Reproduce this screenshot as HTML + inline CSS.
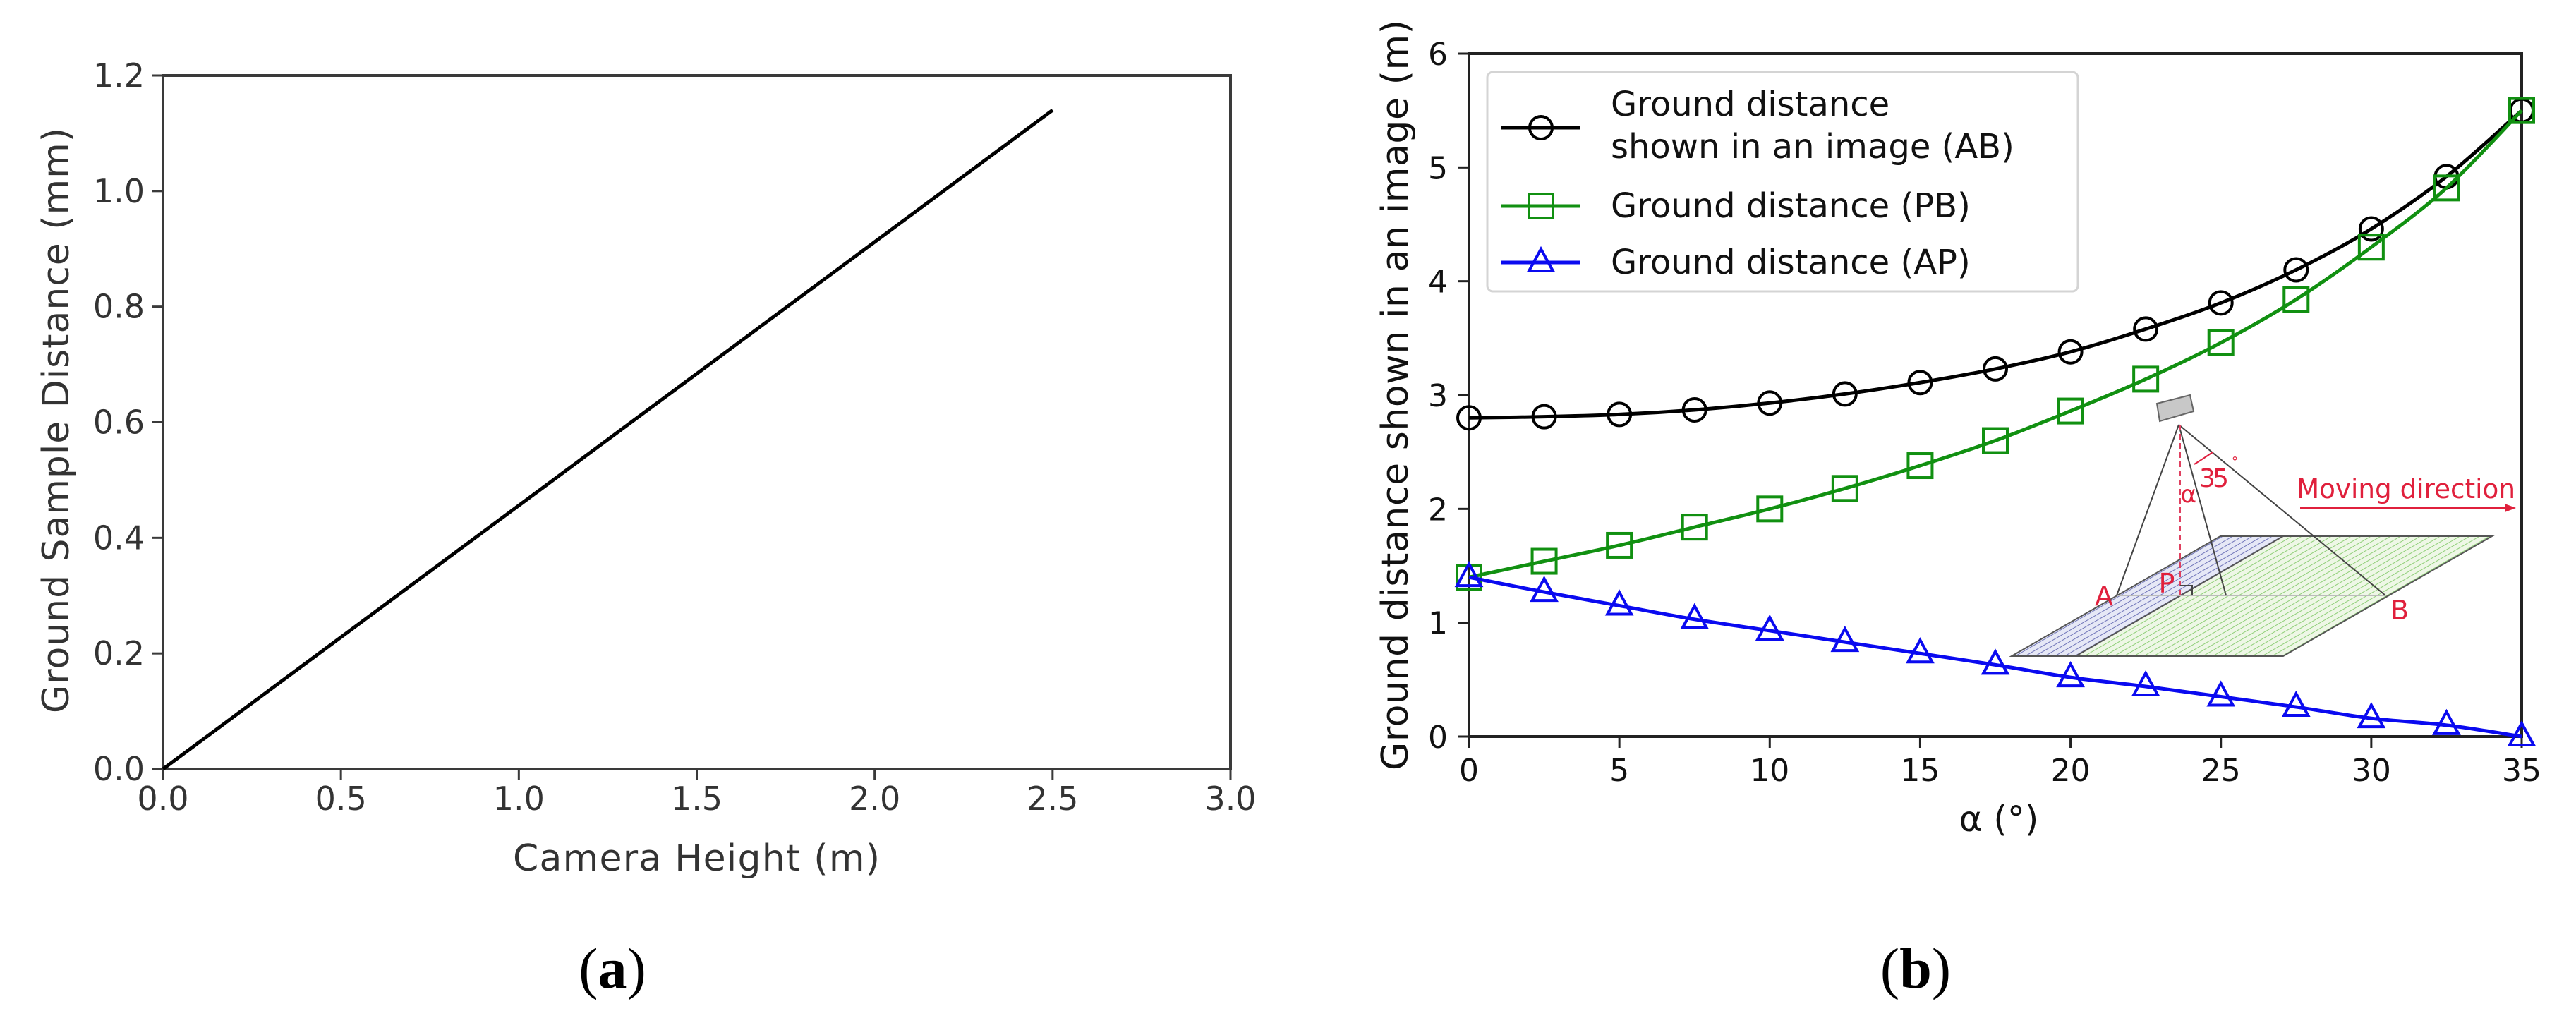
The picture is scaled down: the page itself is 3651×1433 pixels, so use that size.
<!DOCTYPE html>
<html><head><meta charset="utf-8"><style>
html,body{margin:0;padding:0;background:#fff}
svg{display:block}
text{font-family:"DejaVu Sans","Liberation Sans",sans-serif}
</style></head><body>
<svg id="fig" width="3651" height="1433" viewBox="0 0 3651 1433" xmlns="http://www.w3.org/2000/svg">
<g id="chartA"></g>
<g id="chartB"></g>
<text x="868" y="1400" text-anchor="middle" font-size="82" style="font-family:'Liberation Serif',serif">(<tspan font-weight="bold">a</tspan>)</text>
<text x="2715" y="1400" text-anchor="middle" font-size="82" style="font-family:'Liberation Serif',serif">(<tspan font-weight="bold">b</tspan>)</text>
</svg>
<script>
// ---- chart (a) data ----
const aHeights = [0, 2.5];
const aGSD = [0, 1.14];
const aXTicks = [0, 0.5, 1.0, 1.5, 2.0, 2.5, 3.0];
const aYTicks = [0, 0.2, 0.4, 0.6, 0.8, 1.0, 1.2];
// ---- chart (b) data ----
const bAlpha = [0,2.5,5,7.5,10,12.5,15,17.5,20,22.5,25,27.5,30,32.5,35];
const bAB = [2.80,2.81,2.83,2.87,2.93,3.01,3.11,3.23,3.38,3.58,3.81,4.10,4.46,4.92,5.50];
const bPB = [1.40,1.54,1.68,1.84,2.00,2.18,2.38,2.60,2.86,3.14,3.46,3.84,4.30,4.82,5.50];
const bAP = [1.40,1.27,1.15,1.03,0.93,0.83,0.73,0.63,0.52,0.44,0.35,0.26,0.16,0.10,0.00];
const bXTicks = [0,5,10,15,20,25,30,35];
const bYTicks = [0,1,2,3,4,5,6];

const NS="http://www.w3.org/2000/svg";
function mk(parent,tag,attrs,txt){const e=document.createElementNS(NS,tag);for(const k in attrs)e.setAttribute(k,attrs[k]);if(txt!==undefined)e.textContent=txt;parent.appendChild(e);return e;}
function smoothPath(pts){let d="M"+pts[0][0]+","+pts[0][1];for(let i=0;i<pts.length-1;i++){const p0=pts[Math.max(0,i-1)],p1=pts[i],p2=pts[i+1],p3=pts[Math.min(pts.length-1,i+2)];const c1=[p1[0]+(p2[0]-p0[0])/6,p1[1]+(p2[1]-p0[1])/6],c2=[p2[0]-(p3[0]-p1[0])/6,p2[1]-(p3[1]-p1[1])/6];d+=" C"+c1+" "+c2+" "+p2;}return d;}

// ===== Chart A =====
(function(){
const g=document.getElementById('chartA');
const L=231,R=1744,T=107,B=1090;
const xs=v=>L+(v-0)/3*(R-L), ys=v=>B-(v/1.2)*(B-T);
let e=mk(g,'rect',{x:L,y:T,width:R-L,height:B-T,fill:'none',stroke:'#3a3a3a','stroke-width':4});


aXTicks.forEach(t=>{
 e=mk(g,'line',{x1:xs(t),x2:xs(t),y1:B,y2:B+16,stroke:'#3a3a3a','stroke-width':3});
 
 
 e=mk(g,'text',{x:xs(t),y:B+58,'text-anchor':'middle','font-size':46,fill:'#333'},t.toFixed(1));
 
 
});
aYTicks.forEach(t=>{
 e=mk(g,'line',{x1:L-16,x2:L,y1:ys(t),y2:ys(t),stroke:'#3a3a3a','stroke-width':3});
 
 
 e=mk(g,'text',{x:L-26,y:ys(t)+16,'text-anchor':'end','font-size':46,fill:'#333'},t.toFixed(1));
 
 
});
e=mk(g,'polyline',{points:aHeights.map((h,i)=>xs(h)+','+ys(aGSD[i])).join(' '),fill:'none',stroke:'#000','stroke-width':5});


e=mk(g,'text',{x:987,y:1234,'text-anchor':'middle','font-size':52,fill:'#333',textLength:520},'Camera Height (m)');


e=mk(g,'text',{x:0,y:0,'text-anchor':'middle','font-size':52,fill:'#333',transform:'translate(97,596) rotate(-90)',textLength:830},'Ground Sample Distance (mm)');


})();

// ===== Chart B =====
(function(){
const g=document.getElementById('chartB');
const L=2082,R=3574,T=76,B=1044;
const xs=v=>L+v/35*(R-L), ys=v=>B-v/6*(B-T);
let e;
// inset diagram
const ins=mk(g,'g',{});


const defs=mk(ins,'defs',{});
let p=mk(defs,'pattern',{id:'hb',width:7,height:7,patternUnits:'userSpaceOnUse',patternTransform:'rotate(60)'});
mk(p,'rect',{width:7,height:7,fill:'#e6e8f6'});mk(p,'line',{x1:0,y1:0,x2:0,y2:7,stroke:'#6f74b8','stroke-width':2});
p=mk(defs,'pattern',{id:'hg',width:7,height:7,patternUnits:'userSpaceOnUse',patternTransform:'rotate(60)'});
mk(p,'rect',{width:7,height:7,fill:'#eef7e6'});mk(p,'line',{x1:0,y1:0,x2:0,y2:7,stroke:'#8fcf78','stroke-width':2});
e=mk(ins,'polygon',{points:'3236,760 3532,760 3236,930 2942,930',fill:'url(#hg)',stroke:'none'});


e=mk(ins,'polygon',{points:'3147,760 3236,760 2942,930 2851,930',fill:'url(#hb)',stroke:'none'});


mk(ins,'polygon',{points:'3147,760 3532,760 3236,930 2851,930',fill:'none',stroke:'#555','stroke-width':2});
mk(ins,'line',{x1:3236,y1:760,x2:2942,y2:930,stroke:'#555','stroke-width':2});
mk(ins,'line',{x1:3000,y1:844,x2:3381,y2:844,stroke:'#bbb','stroke-width':2});
mk(ins,'line',{x1:3088,y1:602,x2:3000,y2:844,stroke:'#444','stroke-width':2});
mk(ins,'line',{x1:3088,y1:602,x2:3155,y2:844,stroke:'#444','stroke-width':2});
mk(ins,'line',{x1:3088,y1:602,x2:3381,y2:844,stroke:'#444','stroke-width':2});
mk(ins,'line',{x1:3090,y1:602,x2:3090,y2:844,stroke:'#e04060','stroke-width':2,'stroke-dasharray':'8,5'});
mk(ins,'polyline',{points:'3090,830 3107,830 3107,844',fill:'none',stroke:'#444','stroke-width':2});
e=mk(ins,'polygon',{points:'3057,572 3104,560 3109,583 3061,597',fill:'#c8c8c8',stroke:'#666','stroke-width':2});


mk(ins,'path',{d:'M3110,658 Q3123,650 3136,641',fill:'none',stroke:'#e02040','stroke-width':2});
mk(ins,'text',{x:2982,y:858,'font-size':38,fill:'#e0203c','text-anchor':'middle'},'A');
mk(ins,'text',{x:3071,y:840,'font-size':38,fill:'#e0203c','text-anchor':'middle'},'P');
mk(ins,'text',{x:3401,y:878,'font-size':38,fill:'#e0203c','text-anchor':'middle'},'B');
mk(ins,'text',{x:3102,y:712,'font-size':34,fill:'#e0203c','text-anchor':'middle'},'α');
mk(ins,'text',{x:3117,y:690,'font-size':36,fill:'#e0203c',textLength:42},'35');
mk(ins,'text',{x:3163,y:660,'font-size':18,fill:'#e0203c'},'°');
e=mk(ins,'text',{x:3255,y:706,'font-size':38,fill:'#e0203c',textLength:310,lengthAdjust:'spacingAndGlyphs'},'Moving direction');


mk(ins,'line',{x1:3260,y1:720,x2:3555,y2:720,stroke:'#e0203c','stroke-width':2});
mk(ins,'polygon',{points:'3566,720 3550,714 3550,726',fill:'#e0203c'});

// frame and ticks
e=mk(g,'rect',{x:L,y:T,width:R-L,height:B-T,fill:'none',stroke:'#222','stroke-width':4});


bXTicks.forEach(t=>{
 e=mk(g,'line',{x1:xs(t),x2:xs(t),y1:B,y2:B+16,stroke:'#222','stroke-width':3});
 
 
 e=mk(g,'text',{x:xs(t),y:B+63,'text-anchor':'middle','font-size':44,fill:'#111'},String(t));
 
 
});
bYTicks.forEach(t=>{
 e=mk(g,'line',{x1:L-16,x2:L,y1:ys(t),y2:ys(t),stroke:'#222','stroke-width':3});
 
 
 e=mk(g,'text',{x:L-30,y:ys(t)+16,'text-anchor':'end','font-size':44,fill:'#111'},String(t));
 
 
});
// series
const series=[
 {vals:bAB,color:'#000',shape:'circle',name:'series-ab'},
 {vals:bPB,color:'#119011',shape:'square',name:'series-pb'},
 {vals:bAP,color:'#0a0af0',shape:'triangle',name:'series-ap'}];
function marker(par,shape,x,y,color){
 let m;
 if(shape==='circle')m=mk(par,'circle',{cx:x,cy:y,r:16,fill:'none',stroke:color,'stroke-width':4});
 else if(shape==='square')m=mk(par,'rect',{x:x-17,y:y-17,width:34,height:34,fill:'none',stroke:color,'stroke-width':4});
 else m=mk(par,'polygon',{points:`${x},${y-19} ${x+17},${y+12} ${x-17},${y+12}`,fill:'none',stroke:color,'stroke-width':4});
 return m;
}
series.forEach(s=>{
 const sg=mk(g,'g',{});
 
 
 const pts=bAlpha.map((a,i)=>[xs(a),ys(s.vals[i])]);
 e=mk(sg,'path',{d:smoothPath(pts),fill:'none',stroke:s.color,'stroke-width':5});
 
 
 pts.forEach(pt=>{
  e=marker(sg,s.shape,pt[0],pt[1],s.color);
  
  
 });
});
// legend
const lg=mk(g,'g',{});


mk(lg,'rect',{x:2108,y:102,width:837,height:311,rx:8,fill:'#fff','fill-opacity':0.85,stroke:'#d4d4d4','stroke-width':3});
const legRows=[{y:181,s:series[0],lines:['Ground distance','shown in an image (AB)'],ty:[164,224]},
 {y:292,s:series[1],lines:['Ground distance (PB)'],ty:[308]},
 {y:372,s:series[2],lines:['Ground distance (AP)'],ty:[388]}];
legRows.forEach(r=>{
 const eg=mk(lg,'g',{});
 
 
 mk(eg,'line',{x1:2128,x2:2240,y1:r.y,y2:r.y,stroke:r.s.color,'stroke-width':5});
 marker(eg,r.s.shape,2184,r.y,r.s.color);
 r.lines.forEach((t,i)=>mk(eg,'text',{x:2283,y:r.ty[i],'font-size':48,fill:'#111'},t));
});
e=mk(g,'text',{x:2833,y:1178,'text-anchor':'middle','font-size':50,fill:'#111'},'α (°)');


e=mk(g,'text',{x:0,y:0,'text-anchor':'middle','font-size':52,fill:'#111',transform:'translate(1995,560) rotate(-90)',textLength:1064},'Ground distance shown in an image (m)');


})();
</script>
</body></html>
